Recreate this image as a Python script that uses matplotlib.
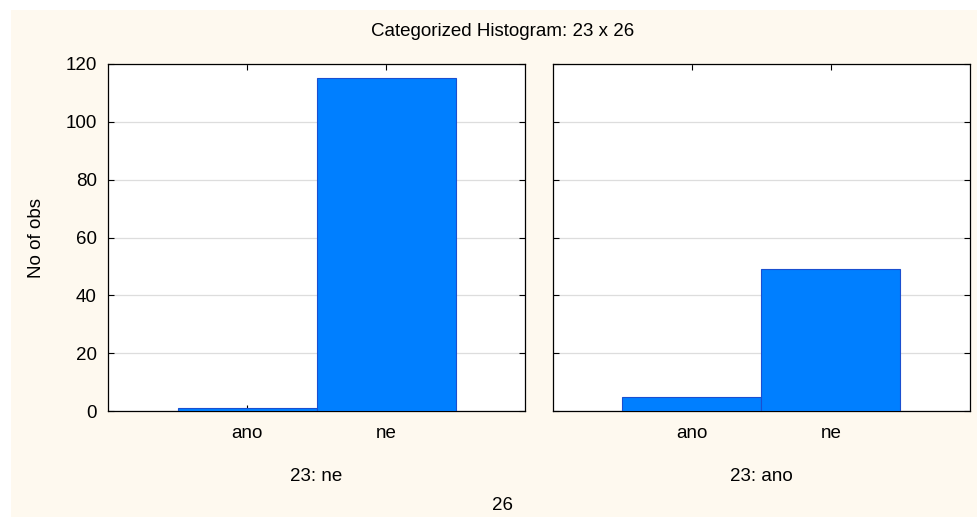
import matplotlib.pyplot as plt
from matplotlib.patches import Rectangle

categories = ['ano', 'ne']
panel_titles = ['23: ne', '23: ano']
counts_ne = [1, 115]
counts_ano = [5, 49]
yticks = [0, 20, 40, 60, 80, 100, 120]

W, H = 978, 517
FS = 13.5
fig = plt.figure(figsize=(W / 100, H / 100), dpi=100)
fig.patch.set_facecolor('white')
# cream panel background (small white margin at top/left)
fig.patches.append(Rectangle((11 / W, 0), 1, 1 - 10 / H, transform=fig.transFigure,
                             facecolor='#fef9ef', edgecolor='none', zorder=-10))

plt.rcParams['font.family'] = ['Liberation Sans', 'DejaVu Sans']

axes_left = [108, 553]
for i, (left, vals, title) in enumerate(zip(axes_left, [counts_ne, counts_ano], panel_titles)):
    ax = fig.add_axes([left / W, (H - 411) / H, 417 / W, 347 / H])
    ax.set_facecolor('white')
    pos = [1, 2]
    ax.bar(pos, vals, width=1.0, color='#007fff', edgecolor='#1a4fd0', linewidth=0.8, zorder=3)
    ax.set_xlim(0, 3)
    ax.set_ylim(0, 120)
    ax.set_yticks(yticks)
    ax.set_xticks(pos)
    ax.set_xticklabels(categories, fontsize=FS)
    ax.grid(axis='y', color='#dddddd', linewidth=0.9, zorder=0)
    ax.tick_params(direction='in', length=4, top=True, right=True, width=0.8, pad=10)
    ax.tick_params(axis='y', pad=8, labelsize=FS)
    if i == 1:
        ax.tick_params(axis='y', labelleft=False)
    for s in ax.spines.values():
        s.set_color('black')
        s.set_linewidth(0.9)
    ax.text(0.5, -0.19, title, transform=ax.transAxes, ha='center', va='center', fontsize=FS)

fig.text(37 / W, 1 - 238 / H, 'No of obs', rotation=90, ha='center', va='center', fontsize=FS)
fig.text(503 / W, 1 - 32 / H, 'Categorized Histogram: 23 x 26', ha='center', va='center', fontsize=FS)
fig.text(503 / W, 1 - 506 / H, '26', ha='center', va='center', fontsize=FS)

fig.savefig('out.png', dpi=100)
